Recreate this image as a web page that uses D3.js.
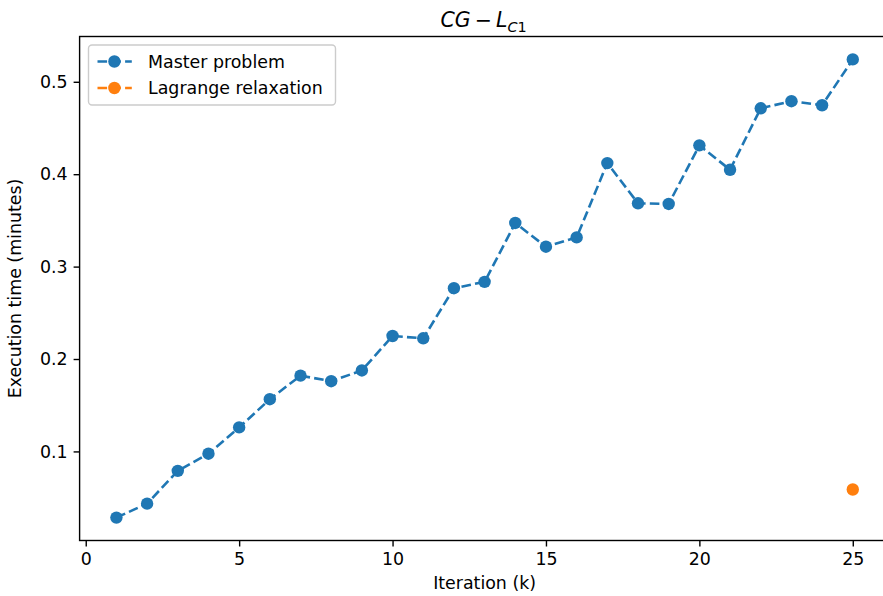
<!DOCTYPE html>
<html>
<head>
<meta charset="utf-8">
<script src="https://cdn.jsdelivr.net/npm/d3@7"></script>
<style>
  body { margin: 0; background: #fff; }
  svg { display: block; font-family: "DejaVu Sans", sans-serif; }
</style>
</head>
<body>
<svg id="chart" width="883" height="596"></svg>
<script>
// ---- data ----
const iterations = [1,2,3,4,5,6,7,8,9,10,11,12,13,14,15,16,17,18,19,20,21,22,23,24,25];
const masterTimes = [0.0284,0.0435,0.0790,0.0975,0.1260,0.1565,0.1820,0.1760,0.1876,0.2249,
                     0.2224,0.2766,0.2835,0.3472,0.3215,0.3316,0.4120,0.3685,0.3678,0.4312,
                     0.4048,0.4713,0.4790,0.4746,0.5242];
const lagrangeIter = [25];
const lagrangeTimes = [0.0588];
const xTicks = [0,5,10,15,20,25];
const yTicks = [0.1,0.2,0.3,0.4,0.5];
const seriesNames = ["Master problem","Lagrange relaxation"];
const colors = ["#1f77b4","#ff7f0e"];

// ---- layout ----
const svg = d3.select("#chart");
const L = 79.6, R = 889.6, T = 36.5, B = 540.5;
const fs = 17.4;

const allX = iterations.concat(lagrangeIter);
const allY = masterTimes.concat(lagrangeTimes);
const [x0, x1] = d3.extent(allX);
const [y0, y1] = d3.extent(allY);
const xm = (x1 - x0) * 0.05, ym = (y1 - y0) * 0.05;

const x = d3.scaleLinear().domain([x0 - xm, x1 + xm]).range([L, R]);
const y = d3.scaleLinear().domain([y0 - ym, y1 + ym]).range([B, T]);

// axes
const xAxis = d3.axisBottom(x).tickValues(xTicks).tickFormat(d3.format("d")).tickSize(6).tickPadding(6);
const yAxis = d3.axisLeft(y).tickValues(yTicks).tickFormat(d3.format(".1f")).tickSize(6).tickPadding(6);

const gx = svg.append("g").attr("transform", `translate(0,${B})`).call(xAxis);
const gy = svg.append("g").attr("transform", `translate(${L},0)`).call(yAxis);
[gx, gy].forEach(g => {
  g.select(".domain").remove();
  g.selectAll(".tick line").attr("stroke", "#000").attr("stroke-width", 1.4);
  g.selectAll(".tick text").attr("fill", "#000").style("font-size", fs + "px")
    .style("font-family", "'DejaVu Sans', sans-serif");
});

// spines
svg.append("rect").attr("x", L).attr("y", T).attr("width", R - L).attr("height", B - T)
  .attr("fill", "none").attr("stroke", "#000").attr("stroke-width", 1.4);

// master line
const line = d3.line().x((d, i) => x(iterations[i])).y(d => y(d));
svg.append("path").datum(masterTimes).attr("d", line)
  .attr("fill", "none").attr("stroke", colors[0]).attr("stroke-width", 2.6)
  .attr("stroke-dasharray", "9.6,4.2");
svg.append("g").selectAll("circle").data(masterTimes).join("circle")
  .attr("cx", (d, i) => x(iterations[i])).attr("cy", d => y(d)).attr("r", 6.2)
  .attr("fill", colors[0]);

// lagrange
svg.append("g").selectAll("circle").data(lagrangeTimes).join("circle")
  .attr("cx", (d, i) => x(lagrangeIter[i])).attr("cy", d => y(d)).attr("r", 6.2)
  .attr("fill", colors[1]);

// labels
svg.append("text").attr("x", (L + R) / 2).attr("y", 589).attr("text-anchor", "middle")
  .style("font-size", fs + "px").text("Iteration (k)");
svg.append("text").attr("transform", `translate(21,${(T + B) / 2}) rotate(-90)`)
  .attr("text-anchor", "middle").style("font-size", fs + "px").text("Execution time (minutes)");

// title: CG − L_{C1}
const title = svg.append("text").attr("x", (L + R) / 2 - 1).attr("y", 27)
  .attr("text-anchor", "middle").style("font-size", "20.5px");
title.append("tspan").style("font-style", "italic").text("CG");
title.append("tspan").text("\u2009\u2212\u2009");
title.append("tspan").style("font-style", "italic").text("L");
title.append("tspan").attr("dy", 4.5).style("font-size", "14.4px").style("font-style", "italic").text("C");
title.append("tspan").style("font-size", "14.4px").text("1");

// legend
const lg = svg.append("g");
lg.append("rect").attr("x", 88.5).attr("y", 45).attr("width", 247).attr("height", 60)
  .attr("rx", 3.5).attr("fill", "#fff").attr("fill-opacity", 0.8)
  .attr("stroke", "#cccccc").attr("stroke-width", 1.4);
seriesNames.forEach((name, i) => {
  const cy = 61.5 + i * 26.5;
  lg.append("line").attr("x1", 97).attr("x2", 131.8).attr("y1", cy).attr("y2", cy)
    .attr("stroke", colors[i]).attr("stroke-width", 2.6).attr("stroke-dasharray", "9.6,4.2")
    .attr("stroke-dashoffset", -0.5);
  lg.append("circle").attr("cx", 114.4).attr("cy", cy).attr("r", 6.2).attr("fill", colors[i]);
  lg.append("text").attr("x", 148).attr("y", cy + 6.3).style("font-size", fs + "px").text(name);
});
</script>
</body>
</html>
